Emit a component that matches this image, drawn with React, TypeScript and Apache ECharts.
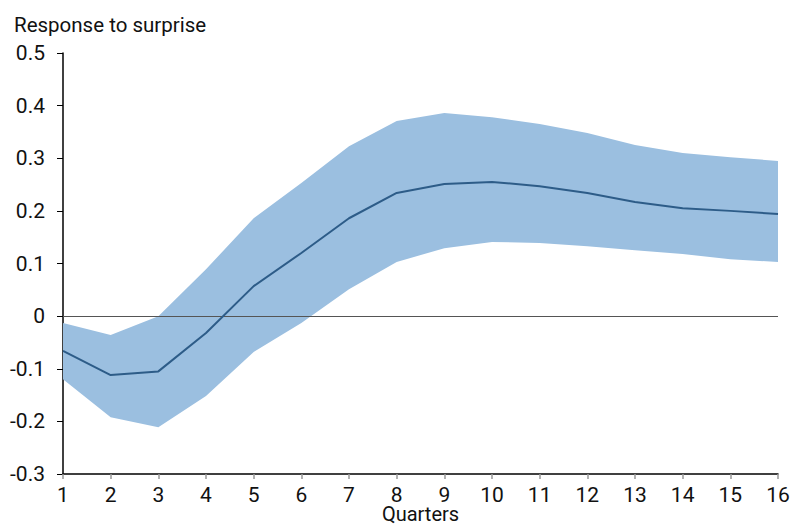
import React, { useEffect, useRef } from "react";
import * as echarts from "echarts";

const quarters = ["1","2","3","4","5","6","7","8","9","10","11","12","13","14","15","16"];
const response = [-0.066, -0.112, -0.105, -0.032, 0.057, 0.12, 0.186, 0.234, 0.251, 0.255, 0.247, 0.234, 0.217, 0.205, 0.2, 0.194];
const upper = [-0.013, -0.036, 0.0, 0.089, 0.186, 0.253, 0.323, 0.371, 0.386, 0.378, 0.365, 0.348, 0.325, 0.31, 0.302, 0.295];
const lower = [-0.12, -0.192, -0.211, -0.152, -0.068, -0.013, 0.051, 0.103, 0.129, 0.141, 0.139, 0.133, 0.125, 0.118, 0.108, 0.103];

const FONT = "Roboto";

export default function App() {
  const ref = useRef<HTMLDivElement>(null);
  useEffect(() => {
    if (!ref.current) return;
    const chart = echarts.init(ref.current, null, { renderer: "svg" });
    const bandWidth = upper.map((u, i) => +(u - lower[i]).toFixed(4));
    chart.setOption({
      animation: false,
      textStyle: { fontFamily: FONT },
      title: {
        text: "Response to surprise",
        left: 9,
        top: 9,
        textStyle: { fontFamily: FONT, fontSize: 20.5, fontWeight: "normal", color: "#111" },
      },
      grid: { left: 63, right: 13, top: 53, bottom: 51, containLabel: false, outerBoundsMode: "none" },
      xAxis: {
        type: "category",
        data: quarters,
        boundaryGap: false,
        name: "Quarters",
        nameLocation: "middle",
        nameGap: 31,
        nameMoveOverlap: false,
        nameTextStyle: { fontFamily: FONT, fontSize: 20, color: "#111", lineHeight: 18 },
        axisLine: { onZero: false, lineStyle: { color: "#000", width: 1.5 } },
        axisTick: { show: true, length: 5, lineStyle: { color: "#999", width: 1.5 }, alignWithLabel: true },
        axisLabel: { fontFamily: FONT, fontSize: 21, color: "#111", margin: 12, lineHeight: 18 },
        splitLine: { show: false },
      },
      yAxis: {
        type: "value",
        min: -0.3,
        max: 0.5,
        interval: 0.1,
        axisLine: { show: true, lineStyle: { color: "#000", width: 1.5 } },
        axisTick: { show: true, length: 6, lineStyle: { color: "#000", width: 1 } },
        axisLabel: {
          fontFamily: FONT,
          fontSize: 21,
          color: "#111",
          margin: 18,
          formatter: (v: number) => {
            const r = Math.round(v * 10) / 10;
            return r === 0 ? "0" : r.toFixed(1);
          },
        },
        splitLine: { show: false },
      },
      series: [
        {
          type: "line",
          data: lower,
          stack: "band",
          stackStrategy: "all",
          symbol: "none",
          lineStyle: { opacity: 0 },
          silent: true,
        },
        {
          type: "line",
          data: bandWidth,
          stack: "band",
          stackStrategy: "all",
          symbol: "none",
          lineStyle: { opacity: 0 },
          areaStyle: { color: "#9bbfe0", opacity: 1 },
          silent: true,
        },
        {
          type: "line",
          data: response,
          symbol: "none",
          lineStyle: { color: "#2d5c88", width: 2 },
          z: 5,
          markLine: {
            silent: true,
            symbol: "none",
            label: { show: false },
            lineStyle: { color: "#555", width: 1, type: "solid" },
            data: [{ yAxis: 0 }],
          },
        },
      ],
    });
    return () => chart.dispose();
  }, []);
  return (
    <div
      ref={ref}
      style={{ width: 791, height: 525, position: "fixed", left: 0, top: 0, background: "#fff" }}
    />
  );
}
